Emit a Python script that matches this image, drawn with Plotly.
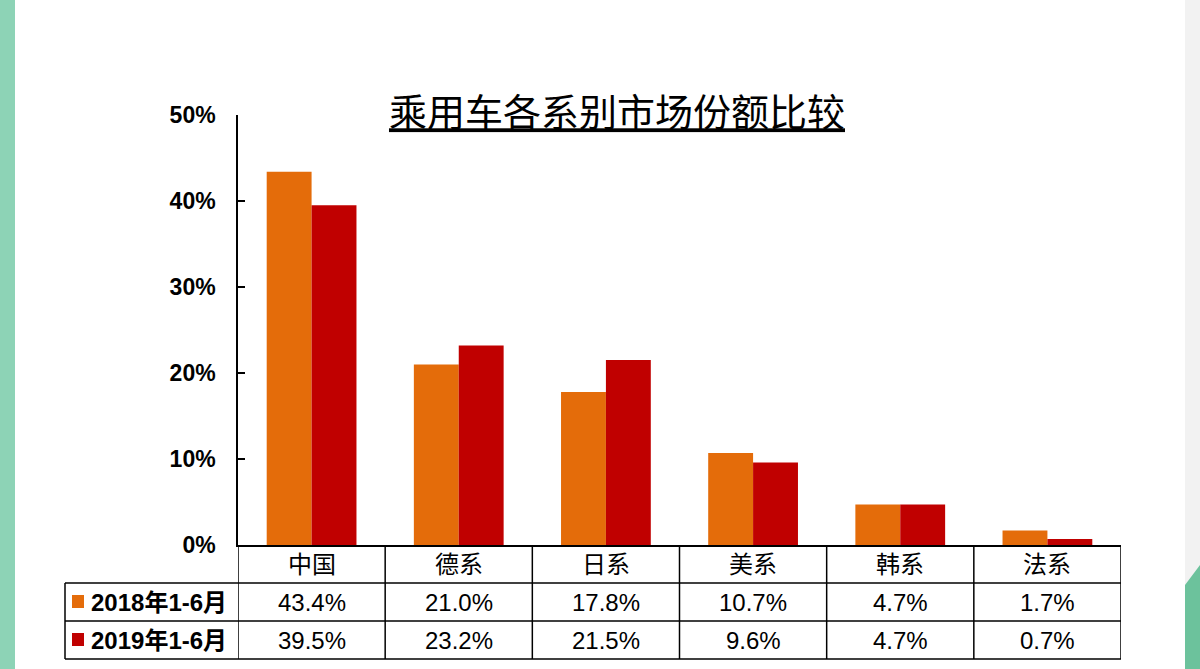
import plotly.graph_objects as go

# 乘用车各系别市场份额比较
categories = ['中国', '德系', '日系', '美系', '韩系', '法系']
share_2018 = [0.434, 0.210, 0.178, 0.107, 0.047, 0.017]
share_2019 = [0.395, 0.232, 0.215, 0.096, 0.047, 0.007]
series_names = ['2018年1-6月', '2019年1-6月']
colors = ['#E46C0A', '#C00000']

W, H = 1200, 669
L, R, T, B = 238, 79, 115, 124
PW, PH = W - L - R, H - T - B


def px(x):
    # pixel -> paper x
    return (x - L) / PW


def py(y):
    # pixel -> paper y
    return (H - B - y) / PH


FONT = 'Liberation Sans, Arial, Noto Sans CJK SC'

fig = go.Figure()
for name, vals, c in zip(series_names, [share_2018, share_2019], colors):
    fig.add_trace(go.Bar(
        x=categories, y=vals, name=name,
        marker=dict(color=c, line=dict(width=0)),
        showlegend=False,
    ))

shapes = []
# decoration: left green stripe, right grey panel, green corner
shapes.append(dict(type='rect', xref='paper', yref='paper', x0=px(0), x1=px(15),
                   y0=py(H), y1=py(0), fillcolor='#8dd3b6', line_width=0, layer='below'))
shapes.append(dict(type='rect', xref='paper', yref='paper', x0=px(1185), x1=px(W),
                   y0=py(H), y1=py(0), fillcolor='#f2f2f2', line_width=0, layer='below'))
shapes.append(dict(type='path', xref='paper', yref='paper',
                   path=f'M {px(1185)},{py(585)} L {px(W)},{py(565)} L {px(W)},{py(H)} L {px(1185)},{py(H)} Z',
                   fillcolor='#6cc29c', line_width=0, layer='below'))

# data table lines
row_y = [py(583), py(621), py(659)]
tbl_left = px(65)
line = dict(color='black', width=1.5)
for y in row_y:
    shapes.append(dict(type='line', xref='paper', yref='paper', x0=tbl_left, x1=1, y0=y, y1=y, line=line))
for i in range(len(categories) + 1):
    shapes.append(dict(type='line', xref='x', yref='paper', x0=i - 0.5, x1=i - 0.5,
                       y0=0, y1=row_y[-1], line=line))
shapes.append(dict(type='line', xref='paper', yref='paper', x0=tbl_left, x1=tbl_left,
                   y0=row_y[0], y1=row_y[-1], line=line))

annotations = []
cell_font = dict(family=FONT, size=24, color='black')
for cat in categories:
    annotations.append(dict(x=cat, xref='x', y=py(564), yref='paper', text=cat,
                            showarrow=False, font=cell_font, yanchor='middle'))
for yy, vals, name, c in zip([602, 640], [share_2018, share_2019], series_names, colors):
    for cat, v in zip(categories, vals):
        annotations.append(dict(x=cat, xref='x', y=py(yy), yref='paper', text=f'{v * 100:.1f}%',
                                showarrow=False, font=cell_font, yanchor='middle'))
    # legend key square + series name
    shapes.append(dict(type='rect', xref='paper', yref='paper', x0=px(72), x1=px(84),
                       y0=py(yy + 6), y1=py(yy - 7), fillcolor=c, line_width=0))
    annotations.append(dict(x=px(89), xref='paper', y=py(yy), yref='paper', xanchor='left',
                            yanchor='middle', showarrow=False, text=f'<b>{name}</b>',
                            font=dict(family=FONT, size=24, color='black')))

fig.update_layout(
    width=W, height=H,
    margin=dict(l=L, r=R, t=T, b=B),
    paper_bgcolor='white', plot_bgcolor='white',
    barmode='group', bargap=0.39, bargroupgap=0,
    title=dict(text='<u>乘用车各系别市场份额比较</u>', x=617 / W, xref='container', xanchor='center',
               y=1 - 113 / H, yref='container', yanchor='middle',
               font=dict(family=FONT, size=38, color='black')),
    xaxis=dict(range=[-0.5, len(categories) - 0.5], showticklabels=False, ticks='',
               showline=True, linecolor='black', linewidth=1.5, showgrid=False, zeroline=False),
    yaxis=dict(range=[0, 0.5], dtick=0.1, tickformat='.0%', ticks='inside', ticklen=7,
               tickcolor='black', tickwidth=1.5, showline=True, linecolor='black', linewidth=1.5,
               showgrid=False, zeroline=False, ticklabelstandoff=16,
               tickfont=dict(family=FONT, size=23, color='black', weight='bold')),
    shapes=shapes, annotations=annotations,
)

fig.write_html('out.html', config={'displayModeBar': False},
               post_script="document.body.style.margin='0';document.body.style.overflow='hidden';")
